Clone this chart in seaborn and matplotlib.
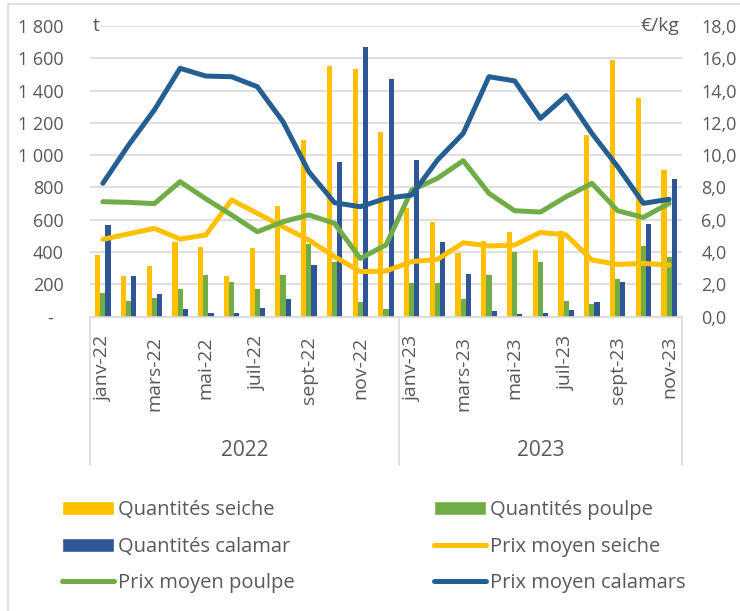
import matplotlib
matplotlib.use("Agg")
import pandas as pd
import matplotlib.pyplot as plt
import seaborn as sns
from matplotlib.lines import Line2D
from matplotlib.patches import Patch, Rectangle

# Mois (2022 complet, 2023 jusqu'à novembre)
mois = [
    "janv-22", "févr-22", "mars-22", "avr-22", "mai-22", "juin-22",
    "juil-22", "août-22", "sept-22", "oct-22", "nov-22", "déc-22",
    "janv-23", "févr-23", "mars-23", "avr-23", "mai-23", "juin-23",
    "juil-23", "août-23", "sept-23", "oct-23", "nov-23",
]
annees = ["2022", "2023"]
nb_mois_annee = [12, 11]

# Quantités (t)
qte_seiche = [382, 252, 314, 465, 430, 252, 427, 687, 1094, 1552, 1534, 1141,
              671, 588, 392, 469, 526, 413, 532, 1125, 1589, 1356, 908]
qte_poulpe = [144, 97, 118, 170, 258, 217, 169, 258, 450, 340, 93, 47,
              206, 210, 107, 258, 402, 341, 97, 78, 233, 440, 372]
qte_calamar = [568, 252, 138, 47, 21, 21, 52, 107, 320, 960, 1672, 1474,
               970, 464, 264, 35, 14, 21, 41, 93, 217, 574, 850]

# Prix moyens (€/kg)
prix_seiche = [4.79, 5.13, 5.47, 4.81, 5.06, 7.23, 6.40, 5.57, 4.75, 3.72, 2.79, 2.83,
               3.41, 3.55, 4.58, 4.38, 4.44, 5.22, 5.06, 3.51, 3.24, 3.30, 3.20]
prix_poulpe = [7.12, 7.08, 7.00, 8.36, 7.30, 6.30, 5.26, 5.88, 6.30, 5.78, 3.61, 4.44,
               7.84, 8.57, 9.66, 7.64, 6.56, 6.48, 7.43, 8.26, 6.56, 6.15, 7.02]
prix_calamar = [8.26, 10.63, 12.80, 15.38, 14.90, 14.86, 14.24, 12.07, 8.98, 7.06, 6.81, 7.33,
                7.53, 9.70, 11.35, 14.86, 14.60, 12.28, 13.69, 11.35, 9.29, 7.02, 7.27]

series_qte = ["Quantités seiche", "Quantités poulpe", "Quantités calamar"]
series_prix = ["Prix moyen seiche", "Prix moyen poulpe", "Prix moyen calamars"]

JAUNE = "#FFC000"
VERT = "#70AD47"
BLEU_BARRE = "#2F5597"
BLEU_LIGNE = "#255E91"
GRIS_TEXTE = "#595959"
GRIS_GRILLE = "#D9D9D9"

sns.set_theme(style="white")
plt.rcParams["font.family"] = ["Open Sans", "DejaVu Sans"]

n = len(mois)
df_qte = pd.DataFrame({
    "mois": mois * 3,
    "série": [s for s in series_qte for _ in range(n)],
    "tonnes": qte_seiche + qte_poulpe + qte_calamar,
})
df_prix = pd.DataFrame({
    "pos": list(range(n)) * 3,
    "série": [s for s in series_prix for _ in range(n)],
    "prix": prix_seiche + prix_poulpe + prix_calamar,
})

fig = plt.figure(figsize=(7.4, 6.11), dpi=100)
ax = fig.add_axes([90 / 740, 1 - 316.7 / 611, 592 / 740, 290.7 / 611])

sns.barplot(
    data=df_qte, x="mois", y="tonnes", hue="série", order=mois,
    hue_order=series_qte, palette=[JAUNE, VERT, BLEU_BARRE],
    width=0.6, saturation=1, errorbar=None, legend=False, linewidth=0, ax=ax,
)

ax2 = ax.twinx()
sns.lineplot(
    data=df_prix, x="pos", y="prix", hue="série", hue_order=series_prix,
    palette=[JAUNE, VERT, BLEU_LIGNE], linewidth=3.6, legend=False, ax=ax2,
)
for line in ax2.get_lines():
    line.set_solid_joinstyle("round")
    line.set_solid_capstyle("round")

ax.set_xlim(-0.5, n - 0.5)
ax.set_ylim(0, 1800)
ax2.set_ylim(0, 18)

# axe gauche
yt = list(range(0, 1801, 200))
ax.set_yticks(yt)
ax.set_yticklabels(["-  " if v == 0 else f"{v:,}".replace(",", " ") for v in yt])
ax.tick_params(axis="y", length=0, pad=19, labelsize=13, colors=GRIS_TEXTE)

# axe droit
yt2 = list(range(0, 19, 2))
ax2.set_yticks(yt2)
ax2.set_yticklabels([f"{v:.1f}".replace(".", ",") for v in yt2])
ax2.tick_params(axis="y", length=0, pad=14, labelsize=13, colors=GRIS_TEXTE)

# axe des mois
ax.set_xticks(range(n))
ax.set_xticklabels([m if i % 2 == 0 else "" for i, m in enumerate(mois)], rotation=90)
ax.tick_params(axis="x", length=0, pad=14, labelsize=14, colors=GRIS_TEXTE)

ax.set_xlabel("")
ax.set_ylabel("")
ax2.set_xlabel("")
ax2.set_ylabel("")

ax.yaxis.grid(True, color=GRIS_GRILLE, linewidth=1.2)
ax.set_axisbelow(True)
for side in ["top", "left", "right"]:
    ax.spines[side].set_visible(False)
ax.spines["bottom"].set_color(GRIS_GRILLE)
ax.spines["bottom"].set_linewidth(1.2)
for side in ax2.spines:
    ax2.spines[side].set_visible(False)

# niveaux de l'axe : séparateurs et années
trans = ax.get_xaxis_transform()
bornes = [-0.5]
for nb in nb_mois_annee:
    bornes.append(bornes[-1] + nb)
for b in bornes:
    ax.plot([b, b], [0, -0.51], transform=trans, color=GRIS_GRILLE,
            linewidth=1.2, clip_on=False)
for annee, a, b in zip(annees, bornes[:-1], bornes[1:]):
    ax.text((a + b) / 2, -0.459, annee, transform=trans, ha="center",
            va="center", fontsize=15, color=GRIS_TEXTE)

# unités
boite = dict(facecolor="white", edgecolor="none", pad=1.5)
ax.text(0.004, 1.0, "t", transform=ax.transAxes, ha="left", va="center",
        fontsize=14, color=GRIS_TEXTE, bbox=boite)
ax.text(0.996, 1.0, "€/kg", transform=ax.transAxes, ha="right", va="center",
        fontsize=14, color=GRIS_TEXTE, bbox=boite)

# légende (remplie par colonnes)
h_seiche = Patch(facecolor=JAUNE)
h_poulpe = Patch(facecolor=VERT)
h_calamar = Patch(facecolor=BLEU_BARRE)
l_seiche = Line2D([], [], color=JAUNE, linewidth=3.6, solid_capstyle="round")
l_poulpe = Line2D([], [], color=VERT, linewidth=3.6, solid_capstyle="round")
l_calamar = Line2D([], [], color=BLEU_LIGNE, linewidth=3.6, solid_capstyle="round")
handles = [h_seiche, h_calamar, l_poulpe, h_poulpe, l_seiche, l_calamar]
labels = [series_qte[0], series_qte[2], series_prix[1],
          series_qte[1], series_prix[0], series_prix[2]]
leg = fig.legend(
    handles, labels, ncol=2, loc="upper left",
    bbox_to_anchor=(62 / 740, 1 - 500 / 611), frameon=False, fontsize=14.5,
    handlelength=2.6, handleheight=0.7, handletextpad=0.2,
    labelspacing=0.83, columnspacing=6.9, borderpad=0, borderaxespad=0,
)
for t in leg.get_texts():
    t.set_color(GRIS_TEXTE)

# cadre du graphique
fig.patches.append(Rectangle((8 / 740, -0.01), 1.0, 1.01 - 3.5 / 611,
                             transform=fig.transFigure, fill=False,
                             edgecolor=GRIS_GRILLE, linewidth=1.2))

fig.savefig("out.png", dpi=100)
